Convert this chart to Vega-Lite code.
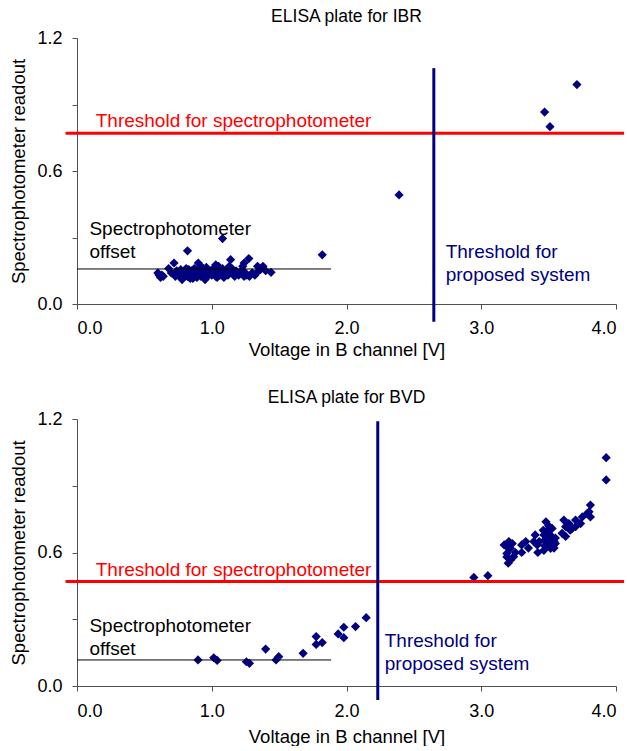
{
  "$schema": "https://vega.github.io/schema/vega-lite/v6.json",
  "padding": {"left": 9, "top": 7, "right": 0, "bottom": 0},
  "spacing": 29,
  "config": {
    "view": {"stroke": null},
    "font": "Liberation Sans",
    "axis": {
      "grid": false,
      "domainColor": "#505050",
      "tickColor": "#505050",
      "tickSize": 5,
      "labelFont": "Liberation Sans",
      "titleFont": "Liberation Sans",
      "labelFontSize": 18,
      "titleFontSize": 18.5,
      "titleFontWeight": "normal",
      "labelColor": "#000000",
      "titleColor": "#000000"
    },
    "title": {"font": "Liberation Sans", "fontSize": 17.5, "fontWeight": "normal", "color": "#000000", "anchor": "middle", "offset": 4}
  },
  "datasets": {
    "ibr": [
      {"v": 0.60, "r": 0.14}, {"v": 0.62, "r": 0.12}, {"v": 0.63, "r": 0.13}, {"v": 0.61, "r": 0.13}, {"v": 0.64, "r": 0.125},
      {"v": 0.68, "r": 0.16}, {"v": 0.72, "r": 0.185}, {"v": 0.74, "r": 0.15}, {"v": 0.75, "r": 0.13}, {"v": 0.76, "r": 0.14},
      {"v": 0.77, "r": 0.12}, {"v": 0.78, "r": 0.11}, {"v": 0.79, "r": 0.145}, {"v": 0.80, "r": 0.13}, {"v": 0.81, "r": 0.16},
      {"v": 0.82, "r": 0.125}, {"v": 0.83, "r": 0.14}, {"v": 0.84, "r": 0.115}, {"v": 0.85, "r": 0.15}, {"v": 0.86, "r": 0.13},
      {"v": 0.87, "r": 0.16}, {"v": 0.88, "r": 0.14}, {"v": 0.89, "r": 0.12}, {"v": 0.90, "r": 0.135}, {"v": 0.91, "r": 0.15},
      {"v": 0.92, "r": 0.17}, {"v": 0.93, "r": 0.13}, {"v": 0.94, "r": 0.16}, {"v": 0.95, "r": 0.14}, {"v": 0.96, "r": 0.12},
      {"v": 0.97, "r": 0.15}, {"v": 0.98, "r": 0.135}, {"v": 0.99, "r": 0.145}, {"v": 1.00, "r": 0.13}, {"v": 1.01, "r": 0.16},
      {"v": 1.02, "r": 0.14}, {"v": 1.03, "r": 0.125}, {"v": 1.04, "r": 0.15}, {"v": 1.05, "r": 0.17}, {"v": 1.06, "r": 0.13},
      {"v": 1.07, "r": 0.145}, {"v": 1.08, "r": 0.16}, {"v": 1.09, "r": 0.12}, {"v": 1.10, "r": 0.14}, {"v": 1.11, "r": 0.155},
      {"v": 1.12, "r": 0.13}, {"v": 1.14, "r": 0.20}, {"v": 1.15, "r": 0.16}, {"v": 1.16, "r": 0.14}, {"v": 1.17, "r": 0.125},
      {"v": 1.18, "r": 0.15}, {"v": 1.20, "r": 0.13}, {"v": 1.22, "r": 0.15}, {"v": 1.23, "r": 0.17}, {"v": 1.24, "r": 0.185},
      {"v": 1.25, "r": 0.14}, {"v": 1.26, "r": 0.13}, {"v": 1.275, "r": 0.205}, {"v": 1.28, "r": 0.125}, {"v": 1.30, "r": 0.14},
      {"v": 1.32, "r": 0.13}, {"v": 1.34, "r": 0.145}, {"v": 1.36, "r": 0.155}, {"v": 1.38, "r": 0.17}, {"v": 1.40, "r": 0.15},
      {"v": 1.44, "r": 0.143}, {"v": 0.70, "r": 0.14}, {"v": 0.73, "r": 0.125}, {"v": 0.88, "r": 0.155}, {"v": 0.92, "r": 0.125},
      {"v": 0.96, "r": 0.165}, {"v": 1.00, "r": 0.15}, {"v": 0.83, "r": 0.155}, {"v": 0.86, "r": 0.115}, {"v": 0.95, "r": 0.11},
      {"v": 1.04, "r": 0.12}, {"v": 1.13, "r": 0.145}, {"v": 0.77, "r": 0.155}, {"v": 0.90, "r": 0.185}, {"v": 1.19, "r": 0.14},
      {"v": 1.03, "r": 0.177}, {"v": 1.34, "r": 0.17}, {"v": 1.24, "r": 0.125}, {"v": 1.13, "r": 0.17},
      {"v": 0.82, "r": 0.24}, {"v": 1.08, "r": 0.295}, {"v": 1.82, "r": 0.222}, {"v": 2.39, "r": 0.492},
      {"v": 3.47, "r": 0.866}, {"v": 3.51, "r": 0.80}, {"v": 3.71, "r": 0.99}
    ],
    "bvd": [
      {"v": 0.898, "r": 0.117}, {"v": 1.015, "r": 0.127}, {"v": 1.04, "r": 0.115}, {"v": 1.257, "r": 0.109}, {"v": 1.28, "r": 0.102},
      {"v": 1.40, "r": 0.166}, {"v": 1.477, "r": 0.117}, {"v": 1.497, "r": 0.132}, {"v": 1.678, "r": 0.147}, {"v": 1.775, "r": 0.222},
      {"v": 1.775, "r": 0.187}, {"v": 1.82, "r": 0.195}, {"v": 1.938, "r": 0.234}, {"v": 1.98, "r": 0.264}, {"v": 1.98, "r": 0.217},
      {"v": 2.067, "r": 0.267}, {"v": 2.146, "r": 0.307},
      {"v": 2.945, "r": 0.488}, {"v": 3.049, "r": 0.496},
      {"v": 3.17, "r": 0.634}, {"v": 3.205, "r": 0.649}, {"v": 3.217, "r": 0.619}, {"v": 3.19, "r": 0.596}, {"v": 3.217, "r": 0.566},
      {"v": 3.24, "r": 0.581}, {"v": 3.254, "r": 0.60}, {"v": 3.20, "r": 0.62}, {"v": 3.23, "r": 0.64}, {"v": 3.19, "r": 0.58},
      {"v": 3.20, "r": 0.552},
      {"v": 3.30, "r": 0.60}, {"v": 3.30, "r": 0.634}, {"v": 3.33, "r": 0.649}, {"v": 3.35, "r": 0.62}, {"v": 3.39, "r": 0.649},
      {"v": 3.40, "r": 0.679}, {"v": 3.415, "r": 0.634}, {"v": 3.42, "r": 0.60}, {"v": 3.43, "r": 0.649},
      {"v": 3.465, "r": 0.679}, {"v": 3.465, "r": 0.61}, {"v": 3.48, "r": 0.738}, {"v": 3.49, "r": 0.70}, {"v": 3.48, "r": 0.66},
      {"v": 3.50, "r": 0.64}, {"v": 3.51, "r": 0.68}, {"v": 3.54, "r": 0.62}, {"v": 3.526, "r": 0.708}, {"v": 3.55, "r": 0.665},
      {"v": 3.515, "r": 0.619}, {"v": 3.54, "r": 0.649}, {"v": 3.47, "r": 0.655}, {"v": 3.52, "r": 0.66}, {"v": 3.47, "r": 0.63},
      {"v": 3.55, "r": 0.64}, {"v": 3.46, "r": 0.70}, {"v": 3.50, "r": 0.72},
      {"v": 3.613, "r": 0.746}, {"v": 3.626, "r": 0.716}, {"v": 3.60, "r": 0.686}, {"v": 3.66, "r": 0.70}, {"v": 3.70, "r": 0.716},
      {"v": 3.70, "r": 0.746}, {"v": 3.75, "r": 0.76}, {"v": 3.737, "r": 0.73}, {"v": 3.80, "r": 0.783}, {"v": 3.81, "r": 0.813},
      {"v": 3.81, "r": 0.76}, {"v": 3.626, "r": 0.672}, {"v": 3.65, "r": 0.73}, {"v": 3.675, "r": 0.708}, {"v": 3.786, "r": 0.775},
      {"v": 3.927, "r": 1.026}, {"v": 3.927, "r": 0.926}
    ]
  },
  "vconcat": [
    {
      "width": 539,
      "height": 266,
      "title": "ELISA plate for IBR",
      "layer": [
        {
          "data": {"name": "ibr"},
          "mark": {"type": "point", "shape": "diamond", "filled": true, "size": 85, "color": "#000080", "opacity": 1},
          "encoding": {
            "x": {"field": "v", "type": "quantitative", "scale": {"domain": [0, 4], "nice": false, "zero": false},
                  "axis": {"title": "Voltage in B channel [V]", "values": [0, 1, 2, 3, 4], "format": ".1f", "labelPadding": 10, "titlePadding": 3}},
            "y": {"field": "r", "type": "quantitative", "scale": {"domain": [0, 1.2], "nice": false},
                  "axis": {"title": "Spectrophotometer readout", "values": [0, 0.15, 0.3, 0.45, 0.6, 0.75, 0.9, 1.05, 1.2],
                           "labelExpr": "round(datum.value*100) % 60 === 0 ? format(datum.value, '.1f') : ''", "labelPadding": 10, "titlePadding": 8}}
          }
        },
        {
          "data": {"values": [{"a": -0.085, "b": 4.06, "t": 0.77}]},
          "mark": {"type": "rule", "color": "#ff0000", "strokeWidth": 3, "clip": false},
          "encoding": {"x": {"field": "a", "type": "quantitative"}, "x2": {"field": "b"}, "y": {"field": "t", "type": "quantitative"}}
        },
        {
          "data": {"values": [{"a": 0, "b": 1.886, "t": 0.158}]},
          "mark": {"type": "rule", "color": "#000000", "strokeWidth": 1},
          "encoding": {"x": {"field": "a", "type": "quantitative"}, "x2": {"field": "b"}, "y": {"field": "t", "type": "quantitative"}}
        },
        {
          "data": {"values": [{"a": 2.648, "lo": -0.08, "hi": 1.064}]},
          "mark": {"type": "rule", "color": "#000080", "strokeWidth": 3, "clip": false},
          "encoding": {"x": {"field": "a", "type": "quantitative"}, "y": {"field": "lo", "type": "quantitative"}, "y2": {"field": "hi"}}
        },
        {
          "data": {"values": [
            {"a": 0.139, "t": 0.80, "label": "Threshold for spectrophotometer", "c": "red"},
            {"a": 0.092, "t": 0.313, "label": "Spectrophotometer\noffset", "c": "black"},
            {"a": 2.736, "t": 0.208, "label": "Threshold for\nproposed system", "c": "blue"}
          ]},
          "mark": {"type": "text", "align": "left", "baseline": "alphabetic", "fontSize": 19, "font": "Liberation Sans", "lineBreak": "\n", "lineHeight": 23, "clip": false},
          "encoding": {
            "x": {"field": "a", "type": "quantitative"},
            "y": {"field": "t", "type": "quantitative"},
            "text": {"field": "label"},
            "color": {"field": "c", "type": "nominal", "scale": {"domain": ["red", "black", "blue"], "range": ["#ff0000", "#000000", "#000080"]}, "legend": null}
          }
        }
      ]
    },
    {
      "width": 539,
      "height": 267,
      "title": "ELISA plate for BVD",
      "layer": [
        {
          "data": {"name": "bvd"},
          "mark": {"type": "point", "shape": "diamond", "filled": true, "size": 85, "color": "#000080", "opacity": 1},
          "encoding": {
            "x": {"field": "v", "type": "quantitative", "scale": {"domain": [0, 4], "nice": false, "zero": false},
                  "axis": {"title": "Voltage in B channel [V]", "values": [0, 1, 2, 3, 4], "format": ".1f", "labelPadding": 11, "titlePadding": 7}},
            "y": {"field": "r", "type": "quantitative", "scale": {"domain": [0, 1.2], "nice": false},
                  "axis": {"title": "Spectrophotometer readout", "values": [0, 0.15, 0.3, 0.45, 0.6, 0.75, 0.9, 1.05, 1.2],
                           "labelExpr": "round(datum.value*100) % 60 === 0 ? format(datum.value, '.1f') : ''", "labelPadding": 10, "titlePadding": 8}}
          }
        },
        {
          "data": {"values": [{"a": -0.085, "b": 4.06, "t": 0.47}]},
          "mark": {"type": "rule", "color": "#ff0000", "strokeWidth": 3, "clip": false},
          "encoding": {"x": {"field": "a", "type": "quantitative"}, "x2": {"field": "b"}, "y": {"field": "t", "type": "quantitative"}}
        },
        {
          "data": {"values": [{"a": 0, "b": 1.886, "t": 0.117}]},
          "mark": {"type": "rule", "color": "#000000", "strokeWidth": 1},
          "encoding": {"x": {"field": "a", "type": "quantitative"}, "x2": {"field": "b"}, "y": {"field": "t", "type": "quantitative"}}
        },
        {
          "data": {"values": [{"a": 2.232, "lo": -0.063, "hi": 1.19}]},
          "mark": {"type": "rule", "color": "#000080", "strokeWidth": 3, "clip": false},
          "encoding": {"x": {"field": "a", "type": "quantitative"}, "y": {"field": "lo", "type": "quantitative"}, "y2": {"field": "hi"}}
        },
        {
          "data": {"values": [
            {"a": 0.139, "t": 0.496, "label": "Threshold for spectrophotometer", "c": "red"},
            {"a": 0.092, "t": 0.241, "label": "Spectrophotometer\noffset", "c": "black"},
            {"a": 2.284, "t": 0.177, "label": "Threshold for\nproposed system", "c": "blue"}
          ]},
          "mark": {"type": "text", "align": "left", "baseline": "alphabetic", "fontSize": 19, "font": "Liberation Sans", "lineBreak": "\n", "lineHeight": 23, "clip": false},
          "encoding": {
            "x": {"field": "a", "type": "quantitative"},
            "y": {"field": "t", "type": "quantitative"},
            "text": {"field": "label"},
            "color": {"field": "c", "type": "nominal", "scale": {"domain": ["red", "black", "blue"], "range": ["#ff0000", "#000000", "#000080"]}, "legend": null}
          }
        }
      ]
    }
  ]
}
